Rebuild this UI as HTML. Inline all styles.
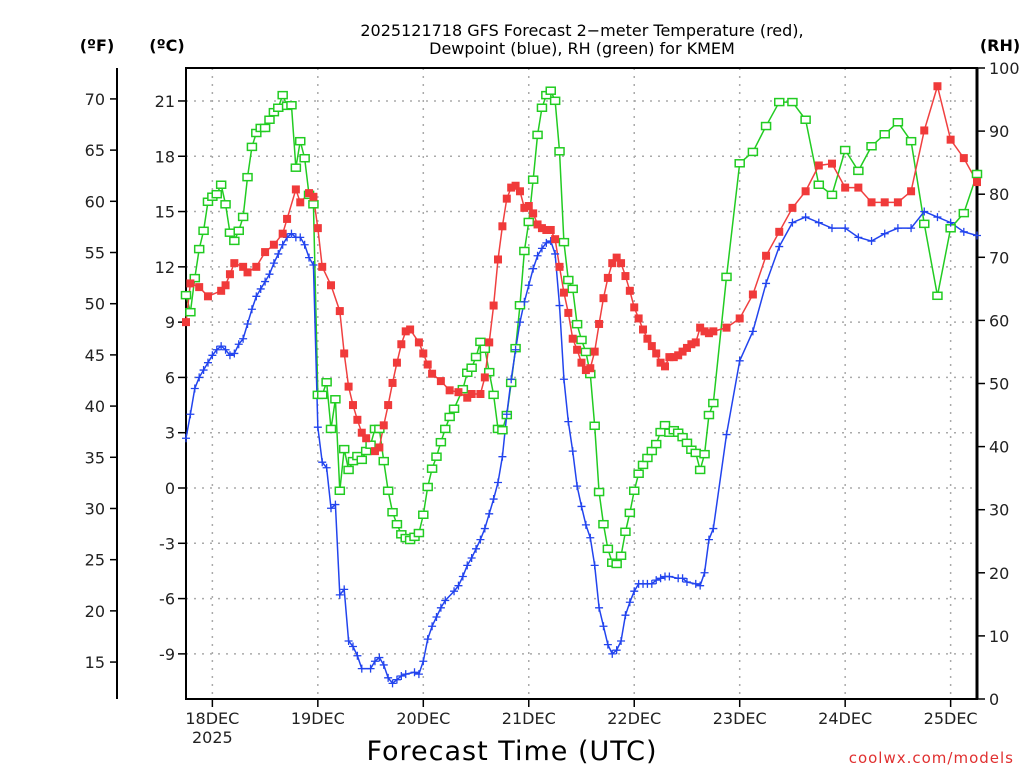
<!DOCTYPE html>
<html><head><meta charset="utf-8"><style>
html,body{margin:0;padding:0;background:#fff;}
svg{display:block;font-family:"DejaVu Sans","Liberation Sans",sans-serif;}
</style></head><body>
<svg id="chart" width="1024" height="768" xmlns="http://www.w3.org/2000/svg">
<text x="582" y="36" font-size="16" text-anchor="middle" fill="#000">2025121718 GFS Forecast 2−meter Temperature (red),</text>
<text x="582" y="54" font-size="16" text-anchor="middle" fill="#000">Dewpoint (blue), RH (green) for KMEM</text>
<text x="97" y="51" font-size="16" font-weight="bold" text-anchor="middle">(ºF)</text>
<text x="167" y="51" font-size="16" font-weight="bold" text-anchor="middle">(ºC)</text>
<text x="1000" y="51" font-size="16" font-weight="bold" text-anchor="middle">(RH)</text>
<text x="512" y="760" font-size="27" text-anchor="middle" letter-spacing="1">Forecast Time (UTC)</text>
<text x="1014" y="763" font-size="15" text-anchor="end" fill="#e03030" letter-spacing="1">coolwx.com/models</text>
<g id="grid"></g>
<g id="axes"></g>
<g id="series"></g>
</svg>
<script>
const tempHours=[0,1,3,5,8,9,10,11,13,14,16,18,20,22,23,25,26,28,29,30,31,33,35,36,37,38,39,40,41,43,44,45,46,47,48,49,50,51,53,54,55,56,58,60,62,64,65,67,68,69,70,71,72,73,74,75,76,77,78,79,80,81,82,83,84,85,86,87,88,89,90,91,92,93,94,95,96,97,98,99,100,101,102,103,104,105,106,107,108,109,110,111,112,113,114,115,116,117,118,119,120,123,126,129,132,135,138,141,144,147,150,153,156,159,162,165,168,171,174,177,180];
const tempC=[9.0,11.1,10.9,10.4,10.7,11.0,11.6,12.2,12.0,11.7,12.0,12.8,13.2,13.8,14.6,16.2,15.5,16.0,15.8,14.1,12.0,11.0,9.6,7.3,5.5,4.5,3.7,3.0,2.7,2.0,2.2,3.4,4.5,5.7,6.8,7.8,8.5,8.6,7.9,7.3,6.7,6.2,5.8,5.3,5.2,4.9,5.1,5.1,6.0,7.9,9.9,12.4,14.2,15.7,16.3,16.4,16.1,15.2,15.3,14.9,14.3,14.1,14.0,14.0,13.5,12.0,10.6,9.5,8.1,7.5,6.8,6.4,6.5,7.4,8.9,10.3,11.4,12.2,12.5,12.2,11.5,10.7,9.8,9.2,8.6,8.1,7.7,7.3,6.8,6.6,7.1,7.1,7.2,7.4,7.6,7.8,7.9,8.7,8.5,8.4,8.5,8.7,9.2,10.5,12.6,13.9,15.2,16.1,17.5,17.6,16.3,16.3,15.5,15.5,15.5,16.1,19.4,21.8,18.9,17.9,16.6];
const dewHours=[0,1,2,3,4,5,6,7,8,9,10,11,12,13,14,15,16,17,18,19,20,21,22,23,24,25,26,27,28,29,30,31,32,33,34,35,36,37,38,39,40,42,43,44,45,46,47,48,49,50,52,53,54,55,56,57,58,59,61,62,63,64,65,66,67,68,69,70,71,72,73,74,75,76,77,78,79,80,81,82,83,84,85,86,87,88,89,90,91,92,93,94,95,96,97,98,99,100,101,102,103,104,105,106,107,108,109,110,112,113,114,116,117,118,119,120,123,126,129,132,135,138,141,144,147,150,153,156,159,162,165,168,171,174,177,180];
const dewC=[2.7,4.0,5.4,6.0,6.4,6.8,7.2,7.5,7.7,7.5,7.2,7.3,7.8,8.1,8.9,9.7,10.4,10.8,11.2,11.6,12.2,12.7,13.2,13.6,13.8,13.6,13.6,13.2,12.5,12.1,3.3,1.4,1.1,-1.1,-0.9,-5.8,-5.5,-8.3,-8.6,-9.1,-9.8,-9.8,-9.4,-9.2,-9.6,-10.3,-10.6,-10.4,-10.2,-10.1,-10.0,-10.1,-9.4,-8.2,-7.5,-7.0,-6.5,-6.1,-5.6,-5.3,-4.8,-4.2,-3.8,-3.3,-2.8,-2.2,-1.4,-0.6,0.3,1.7,4.0,5.9,7.5,9.0,10.1,11.0,11.9,12.6,13.0,13.3,13.4,12.7,9.9,5.9,3.6,2.0,0.1,-1.0,-2.0,-2.7,-4.2,-6.5,-7.5,-8.5,-9.0,-8.8,-8.3,-6.9,-6.2,-5.6,-5.2,-5.2,-5.2,-5.2,-5.0,-4.9,-4.8,-4.8,-4.9,-4.9,-5.1,-5.2,-5.3,-4.6,-2.8,-2.2,2.9,6.9,8.5,11.1,13.1,14.4,14.7,14.4,14.1,14.1,13.6,13.4,13.8,14.1,14.1,15.0,14.7,14.4,13.9,13.7];
const rhHours=[0,1,2,3,4,5,6,7,8,9,10,11,12,13,14,15,16,17,18,19,20,21,22,23,24,25,26,27,28,29,30,31,32,33,34,35,36,37,38,39,40,41,42,43,44,45,46,47,48,49,50,51,52,53,54,55,56,57,58,59,60,61,63,64,65,66,67,68,69,70,71,72,73,74,75,76,77,78,79,80,81,82,83,84,85,86,87,88,89,90,91,92,93,94,95,96,97,98,99,100,101,102,103,104,105,106,107,108,109,110,111,112,113,114,115,116,117,118,119,120,123,126,129,132,135,138,141,144,147,150,153,156,159,162,165,168,171,174,177,180];
const rhPct=[64.0,61.3,66.7,71.3,74.2,78.8,79.6,80.0,81.5,78.4,73.9,72.6,74.2,76.4,82.7,87.5,89.7,90.5,90.5,91.8,93.0,93.7,95.7,94.0,94.1,84.2,88.4,85.7,79.9,78.4,48.2,48.2,50.2,42.8,47.5,33.0,39.6,36.3,37.7,38.5,37.9,39.3,40.3,42.8,42.8,37.7,33.0,29.6,27.7,26.1,25.5,25.2,25.7,26.3,29.2,33.6,36.5,38.4,40.7,42.8,44.7,46.0,49.1,51.7,52.5,54.2,56.6,55.5,51.8,48.2,42.8,42.6,45.0,50.1,55.6,62.4,71.0,75.6,82.3,89.4,93.7,95.7,96.4,94.8,86.8,72.4,66.4,65.0,59.4,56.9,55.0,51.5,43.3,32.8,27.7,23.8,21.6,21.4,22.7,26.5,29.5,33.0,35.7,37.1,38.2,39.3,40.4,42.3,43.4,42.2,42.6,42.2,41.5,40.6,39.5,39.0,36.3,38.8,45.0,46.9,66.9,84.9,86.7,90.8,94.6,94.6,91.8,81.5,79.9,87.0,83.7,87.6,89.5,91.4,88.4,75.3,63.9,74.6,77.0,83.2];
const celsiusTicks=[-9,-6,-3,0,3,6,9,12,15,18,21];
const fahrenheitTicks=[15,20,25,30,35,40,45,50,55,60,65,70];
const rhTicks=[0,10,20,30,40,50,60,70,80,90,100];
const dayLabels=["18DEC","19DEC","20DEC","21DEC","22DEC","23DEC","24DEC","25DEC"];
const dayHours=[6,30,54,78,102,126,150,174];

const NS="http://www.w3.org/2000/svg";
const L=186,R=977,T=68,B=699;
const xH=h=>L+h*(R-L)/180;
const yC=c=>488-c*18.43;
const yF=f=>yC((f-32)*5/9);
const yRH=r=>B-r*(B-T)/100;
function mk(tag,attrs,parent,text){const e=document.createElementNS(NS,tag);for(const k in attrs)e.setAttribute(k,attrs[k]);if(text!==undefined)e.textContent=text;parent.appendChild(e);return e;}
const grid=document.getElementById('grid'),axes=document.getElementById('axes'),ser=document.getElementById('series');
celsiusTicks.forEach(c=>{
  const y=yC(c);
  const g=mk('line',{x1:L,x2:R,y1:y,y2:y,stroke:'#aaa','stroke-dasharray':'2,6','stroke-width':1.5},grid);
  
  
  mk('line',{x1:L-8,x2:L,y1:y,y2:y,stroke:'#000','stroke-width':1.5},axes);
  const t=mk('text',{x:L-11,y:y+6,'font-size':16,'text-anchor':'end',fill:'#222'},axes,String(c));
  
  
});
dayHours.forEach((h,i)=>{
  const x=xH(h);
  const g=mk('line',{x1:x,x2:x,y1:T,y2:B,stroke:'#aaa','stroke-dasharray':'2,6','stroke-width':1.5},grid);
  
  
  mk('line',{x1:x,x2:x,y1:B,y2:B+8,stroke:'#000','stroke-width':1.5},axes);
  const t=mk('text',{x:x,y:724,'font-size':16,'text-anchor':'middle',fill:'#222'},axes,dayLabels[i]);
  
  
});
const yr=mk('text',{x:xH(dayHours[0]),y:743,'font-size':16,'text-anchor':'middle',fill:'#222'},axes,'2025');


const fl=mk('line',{x1:117,x2:117,y1:T,y2:B,stroke:'#000','stroke-width':2},axes);


fahrenheitTicks.forEach(f=>{
  const y=yF(f);
  mk('line',{x1:110,x2:117,y1:y,y2:y,stroke:'#000','stroke-width':1.5},axes);
  const t=mk('text',{x:105,y:y+6,'font-size':16,'text-anchor':'end',fill:'#222'},axes,String(f));
  
  
});
rhTicks.forEach(r=>{
  const y=yRH(r);
  mk('line',{x1:R,x2:R+8,y1:y,y2:y,stroke:'#000','stroke-width':1.5},axes);
  const t=mk('text',{x:989,y:y+6,'font-size':16,'text-anchor':'start',fill:'#222'},axes,String(r));
  
  
});
const frame=mk('rect',{x:L,y:T,width:R-L,height:B-T,fill:'none',stroke:'#000','stroke-width':2},axes);


mk('line',{x1:R,x2:R,y1:T,y2:B,stroke:'#000','stroke-width':3},axes);

function drawLine(hs,vs,yf,color,name){
  const p=mk('polyline',{points:hs.map((h,i)=>xH(h)+','+yf(vs[i])).join(' '),fill:'none',stroke:color,'stroke-width':1.5},ser);
  
  
}
drawLine(rhHours,rhPct,yRH,'#22cc22','rh-line');
drawLine(dewHours,dewC,yC,'#2244ee','dewpoint-line');
drawLine(tempHours,tempC,yC,'#f04040','temperature-line');
rhHours.forEach((h,i)=>{
  const r=mk('rect',{x:xH(h)-4.5,y:yRH(rhPct[i])-3.5,width:9,height:7,fill:'#fff',stroke:'#22cc22','stroke-width':1.5},ser);
  
  
});
dewHours.forEach((h,i)=>{
  const x=xH(h),y=yC(dewC[i]);
  const p=mk('path',{d:`M${x-4},${y}H${x+4}M${x},${y-4}V${y+4}`,stroke:'#2244ee','stroke-width':1.3,fill:'none'},ser);
  
  
});
tempHours.forEach((h,i)=>{
  const r=mk('rect',{x:xH(h)-4,y:yC(tempC[i])-4,width:8,height:8,fill:'#f03a3a'},ser);
  
  
});
</script>
</body></html>
